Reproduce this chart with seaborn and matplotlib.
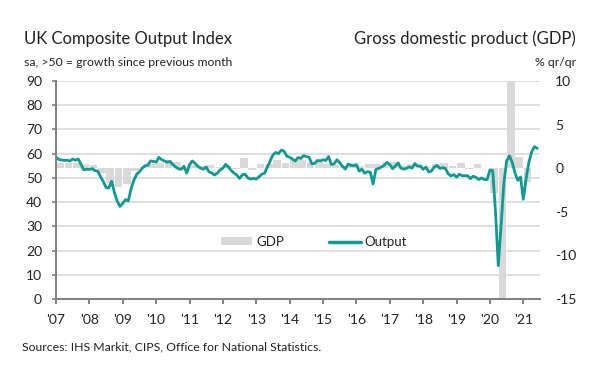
import numpy as np
import pandas as pd
import matplotlib
matplotlib.use("Agg")
import matplotlib.pyplot as plt
import seaborn as sns
from matplotlib.patches import Patch

# UK composite output index, monthly, Jan 2007 - Jun 2021
pmi_2007 = [58.6, 57.6, 57.4, 57.2, 57.3, 57.0, 57.8, 57.3, 57.8, 55.5, 53.3, 53.6]
pmi_2008 = [53.5, 53.8, 53.0, 52.8, 50.5, 48.5, 46.0, 45.8, 48.6, 44.0, 40.5, 38.2]
pmi_2009 = [39.5, 41.0, 40.5, 45.5, 49.0, 51.5, 52.5, 54.0, 55.0, 55.2, 57.0, 56.8]
pmi_2010 = [56.5, 58.5, 57.5, 57.0, 56.5, 56.8, 55.5, 54.5, 53.8, 53.5, 54.8, 52.0]
pmi_2011 = [55.5, 57.0, 56.0, 54.8, 54.0, 53.6, 54.5, 52.5, 52.0, 51.2, 52.0, 53.3]
pmi_2012 = [54.0, 55.6, 54.5, 53.0, 52.0, 51.2, 49.8, 51.3, 51.5, 50.0, 49.5, 49.8]
pmi_2013 = [49.5, 50.5, 51.5, 52.0, 54.5, 57.0, 59.5, 60.5, 60.0, 61.5, 61.0, 59.0]
pmi_2014 = [58.5, 57.8, 57.0, 58.4, 58.0, 59.2, 58.8, 58.5, 55.8, 56.0, 57.2, 57.0]
pmi_2015 = [57.5, 57.2, 58.8, 55.5, 55.8, 57.5, 56.3, 54.8, 53.6, 55.7, 55.2, 55.0]
pmi_2016 = [55.5, 52.8, 53.6, 51.9, 52.6, 52.3, 47.5, 53.5, 53.9, 54.5, 55.2, 56.4]
pmi_2017 = [55.5, 53.8, 54.9, 56.2, 54.0, 53.6, 54.0, 54.5, 54.0, 55.9, 54.9, 54.9]
pmi_2018 = [53.5, 54.5, 52.4, 52.9, 54.5, 55.1, 53.9, 54.2, 53.9, 51.7, 50.8, 51.4]
pmi_2019 = [50.3, 51.5, 50.9, 50.9, 50.9, 49.7, 50.7, 50.2, 49.3, 50.0, 49.3, 49.3]
pmi_2020 = [53.3, 53.0, 36.0, 13.8, 30.0, 47.7, 57.0, 59.1, 56.5, 52.1, 49.0, 50.4]
pmi_2021 = [41.2, 49.6, 56.4, 60.7, 62.9, 62.2]

# GDP % q/q, 2007 Q1 - 2021 Q1
gdp_q = [0.6, 0.6, 0.6, 0.5,
         0.4, -0.6, -1.7, -2.1,
         -1.8, -0.3, 0.1, 0.5,
         0.6, 0.9, 0.7, 0.1,
         0.4, 0.2, 0.4, 0.1,
         0.3, -0.1, 1.2, -0.2,
         0.5, 0.5, 0.9, 0.6,
         0.9, 0.9, 0.7, 0.7,
         0.5, 0.4, 0.3, 0.6,
         0.2, 0.5, 0.5, 0.7,
         0.7, 0.3, 0.5, 0.4,
         0.1, 0.5, 0.6, 0.2,
         0.6, -0.1, 0.5, 0.0,
         -2.8, -19.5, 16.9, 1.3,
         -1.6]

year_labels = ["'07", "'08", "'09", "'10", "'11", "'12", "'13", "'14",
               "'15", "'16", "'17", "'18", "'19", "'20", "'21"]
pmi_ticks = [0, 10, 20, 30, 40, 50, 60, 70, 80, 90]
gdp_ticks = [-15, -10, -5, 0, 5, 10]

pmi = (pmi_2007 + pmi_2008 + pmi_2009 + pmi_2010 + pmi_2011 + pmi_2012 + pmi_2013
       + pmi_2014 + pmi_2015 + pmi_2016 + pmi_2017 + pmi_2018 + pmi_2019 + pmi_2020 + pmi_2021)

out = pd.DataFrame({"date": 2007 + np.arange(len(pmi)) / 12, "pmi": pmi})
gdp = pd.DataFrame({"date": 2007 + np.arange(len(gdp_q)) / 4 + 0.125, "gdp": gdp_q})

sns.set_theme(style="white")
plt.rcParams['font.family'] = ['Lato', 'DejaVu Sans']
plt.rcParams['axes.unicode_minus'] = False

teal = "#0d9a92"
grey = "#d9d9d9"
txt = "#222222"

fig = plt.figure(figsize=(6, 3.74), dpi=100)
ax = fig.add_axes([0.0933, 0.2005, 0.8067, 0.5829])
ax2 = ax.twinx()

sns.barplot(data=gdp, x="date", y="gdp", ax=ax2, native_scale=True,
            color=grey, width=0.92, saturation=1, linewidth=0)
sns.lineplot(data=out, x="date", y="pmi", ax=ax, color=teal, linewidth=2.0)

ax.set_zorder(2)
ax.patch.set_visible(False)

ax.set_xlim(2007, 2021.5)
ax.set_ylim(0, 90)
ax2.set_ylim(-15, 10)
ax.set_xticks(range(2007, 2022))
ax.set_xticklabels(year_labels)
ax.set_yticks(pmi_ticks)
ax2.set_yticks(gdp_ticks)
ax.set_xlabel("")
ax.set_ylabel("")
ax2.set_xlabel("")
ax2.set_ylabel("")

ax.grid(axis="y", color=grey, linewidth=1.2)
ax.set_axisbelow(True)
for s in ["top", "right"]:
    ax.spines[s].set_visible(False)
for s in ["left", "bottom"]:
    ax.spines[s].set_color("#808080")
    ax.spines[s].set_linewidth(1.4)
for s in ax2.spines.values():
    s.set_visible(False)

ax.tick_params(axis="y", length=3, width=1.2, color="#808080", pad=7,
               labelsize=10, labelcolor=txt, left=True)
ax.tick_params(axis="x", length=3.5, width=1.4, color="#808080", pad=7,
               labelsize=10, labelcolor=txt, bottom=True, direction="out")
ax2.tick_params(axis="y", length=0, pad=11, labelsize=10, labelcolor=txt)

handles = [Patch(facecolor=grey, edgecolor="none"),
           plt.Line2D([], [], color=teal, linewidth=2.5)]
ax.legend(handles, ["GDP", "Output"], loc="center", bbox_to_anchor=(0.533, 0.262),
          ncol=2, frameon=False, fontsize=9.5, handlelength=2.4, handleheight=0.5,
          handletextpad=0.3, columnspacing=3.4, labelcolor=txt)

fig.text(0.04, 0.8957, "UK Composite Output Index", fontsize=12, color=txt, va="center")
fig.text(0.04, 0.834, "sa, >50 = growth since previous month", fontsize=8.8, color=txt, va="center")
fig.text(0.96, 0.8957, "Gross domestic product (GDP)", fontsize=12, color=txt, va="center", ha="right")
fig.text(0.96, 0.834, "% qr/qr", fontsize=8.8, color=txt, va="center", ha="right")
fig.text(0.037, 0.072, "Sources: IHS Markit, CIPS, Office for National Statistics.",
         fontsize=8.8, color=txt, va="center")

fig.savefig("out.png", dpi=100)
